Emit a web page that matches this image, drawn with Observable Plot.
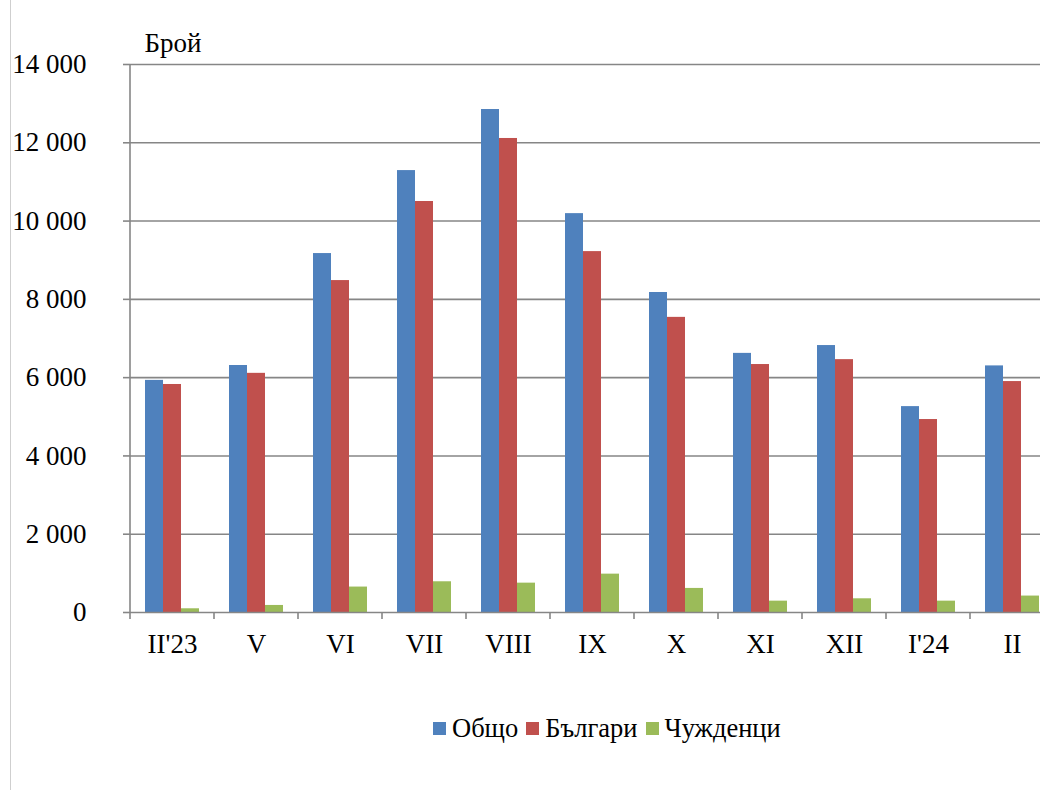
<!DOCTYPE html>
<html>
<head>
<meta charset="utf-8">
<script src="https://cdn.jsdelivr.net/npm/d3@7"></script>
<script src="https://cdn.jsdelivr.net/npm/@observablehq/plot@0.6"></script>
<style>
html, body { margin: 0; padding: 0; background: #fff; overflow: hidden; }
#wrap { position: relative; width: 1040px; height: 798px; overflow: hidden; font-family: "Liberation Serif", "Times New Roman", serif; color: #000; }
#border { position: absolute; left: 10px; top: 0; width: 1px; height: 790px; background: #cfcfcf; }
#legend { position: absolute; left: 433px; top: 712px; display: flex; align-items: center; font-size: 26.5px; line-height: 32px; white-space: nowrap; }
#legend .item { display: flex; align-items: center; margin-right: 8px; }
#legend .sw { width: 13px; height: 13px; margin-right: 6px; }
</style>
</head>
<body>
<div id="wrap">
  <div id="border"></div>
  <div id="chart"></div>
  <div id="legend"></div>
</div>
<script>
// ---- data ----
const categories = ["II'23", "V", "VI", "VII", "VIII", "IX", "X", "XI", "XII", "I'24", "II"];
const seriesNames = ["Общо", "Българи", "Чужденци"];
const total       = [5930, 6310, 9170, 11290, 12850, 10190, 8175, 6620, 6820, 5260, 6300];
const bulgarians  = [5825, 6110, 8480, 10500, 12110, 9220, 7540, 6335, 6460, 4930, 5900];
const foreigners  = [95, 180, 650, 785, 750, 980, 615, 290, 350, 290, 420];
const colors = ["#4F81BD", "#C0504D", "#9BBB59"];
const yTicks = [0, 2000, 4000, 6000, 8000, 10000, 12000, 14000];
const yLabel = "Брой";

const seriesValues = [total, bulgarians, foreigners];
const rows = [];
categories.forEach((c, i) => {
  seriesNames.forEach((s, k) => rows.push({month: c, series: s, value: seriesValues[k][i]}));
});

const locale = d3.formatLocale({decimal: ",", thousands: " ", grouping: [3], currency: ["", ""]});
const fmt = locale.format(",d");
const gridColor = "#868686";
const font = '"Liberation Serif", "Times New Roman", serif';
const fs = 27;

const plot = Plot.plot({
  width: 1040,
  height: 690,
  marginLeft: 129,
  marginRight: -14,
  marginTop: 64,
  marginBottom: 78,
  style: {fontFamily: font, fontSize: fs + "px", color: "#000", background: "transparent", overflow: "visible"},
  fx: {domain: categories, padding: 0, label: null},
  x: {domain: seriesNames, paddingInner: 0, paddingOuter: 0.75, axis: null},
  y: {domain: [0, 14000], label: null},
  color: {domain: seriesNames, range: colors},
  marks: [
    Plot.gridY(yTicks.filter(d => d > 0), {stroke: gridColor, strokeOpacity: 1, strokeWidth: 1.6}),
    Plot.barY(rows, {fx: "month", x: "series", y: "value", fill: "series"}),
    Plot.ruleY([0], {stroke: gridColor, strokeWidth: 1.6}),
    Plot.axisY({ticks: yTicks, tickSize: 7, tickPadding: 37, tickFormat: fmt, stroke: gridColor, strokeWidth: 1.6, label: null, fontSize: fs}),
    Plot.axisFx({anchor: "bottom", tickSize: 0, tickPadding: 21, label: null, fontSize: fs}),
    Plot.text([yLabel], {fx: () => categories[0], frameAnchor: "top-left", textAnchor: "start", lineAnchor: "middle", dx: 14, dy: -21, fontSize: fs, fill: "#000"})
  ]
});

document.getElementById("chart").appendChild(plot);

// axis line and category boundary ticks, positioned through Plot's own scales
const fxS = plot.scale("fx");
const yS = plot.scale("y");
const svg = d3.select(plot);
const g = svg.append("g").attr("stroke", gridColor).attr("stroke-width", 1.6);
const x0 = fxS.apply(categories[0]);
g.append("line").attr("x1", x0).attr("x2", x0).attr("y1", yS.apply(14000)).attr("y2", yS.apply(0));
const bounds = categories.map(c => fxS.apply(c)).concat([fxS.apply(categories[categories.length - 1]) + fxS.step]);
bounds.forEach(b => {
  g.append("line").attr("x1", b).attr("x2", b).attr("y1", yS.apply(0)).attr("y2", yS.apply(0) + 7);
});

// legend
const legend = d3.select("#legend");
seriesNames.forEach((s, k) => {
  const it = legend.append("div").attr("class", "item");
  it.append("div").attr("class", "sw").style("background", colors[k]);
  it.append("span").text(s);
});
</script>
</body>
</html>
